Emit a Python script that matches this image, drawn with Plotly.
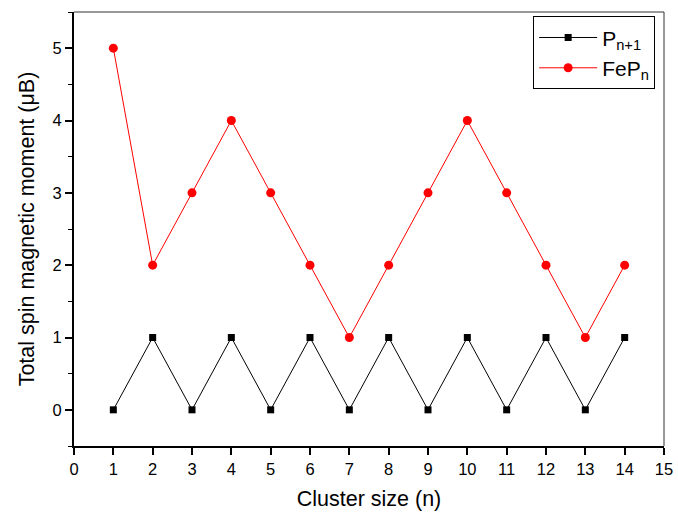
import plotly.graph_objects as go

cluster_size = list(range(1, 15))
p_n1 = [0, 1, 0, 1, 0, 1, 0, 1, 0, 1, 0, 1, 0, 1]
fep_n = [5, 2, 3, 4, 3, 2, 1, 2, 3, 4, 3, 2, 1, 2]

fig = go.Figure()
fig.add_trace(go.Scatter(
    x=cluster_size, y=p_n1, mode="lines+markers", name="P<sub>n+1</sub>",
    line=dict(color="black", width=1),
    marker=dict(symbol="square", size=7, color="black"),
))
fig.add_trace(go.Scatter(
    x=cluster_size, y=fep_n, mode="lines+markers", name="FeP<sub>n</sub>",
    line=dict(color="red", width=1),
    marker=dict(symbol="circle", size=9, color="red"),
))

font = "Liberation Sans, Arial, sans-serif"
fig.update_layout(
    width=678, height=517,
    margin=dict(l=74, r=14, t=12, b=71),
    plot_bgcolor="white", paper_bgcolor="white",
    font=dict(family=font, color="black", size=16),
    showlegend=True,
    legend=dict(
        x=0.985, y=0.99, xanchor="right", yanchor="top",
        bordercolor="black", borderwidth=1, bgcolor="white",
        font=dict(size=21, family=font),
        itemwidth=58,
        tracegroupgap=0,
    ),
    xaxis=dict(
        range=[0, 15], tickmode="linear", tick0=0, dtick=1,
        showgrid=False, zeroline=False, automargin=False,
        showline=True, linecolor="black", linewidth=2, mirror=False,
        ticks="outside", ticklen=7, tickwidth=1.5, tickcolor="black",
        tickfont=dict(size=16.5),
        title=dict(text="Cluster size (n)", font=dict(size=21.5), standoff=14),
    ),
    yaxis=dict(
        range=[-0.5, 5.5], tickmode="linear", tick0=0, dtick=1,
        showgrid=False, zeroline=False, automargin=False,
        showline=True, linecolor="black", linewidth=2, mirror=False,
        ticks="outside", ticklen=7, tickwidth=1.5, tickcolor="black",
        tickfont=dict(size=16.5),
        minor=dict(dtick=0.5, tick0=0, ticks="outside", ticklen=4, tickcolor="black", tickwidth=1),
        title=dict(text="Total spin magnetic moment (μB)", font=dict(size=21.5), standoff=12),
    ),
    shapes=[
        dict(type="line", xref="paper", yref="paper", x0=0, x1=1, y0=1, y1=1,
             line=dict(color="#333333", width=1)),
        dict(type="line", xref="paper", yref="paper", x0=1, x1=1, y0=0, y1=1,
             line=dict(color="#333333", width=1)),
    ],
)

fig.write_html("out.html", config={"displayModeBar": False},
               post_script="document.body.style.margin='0';")
